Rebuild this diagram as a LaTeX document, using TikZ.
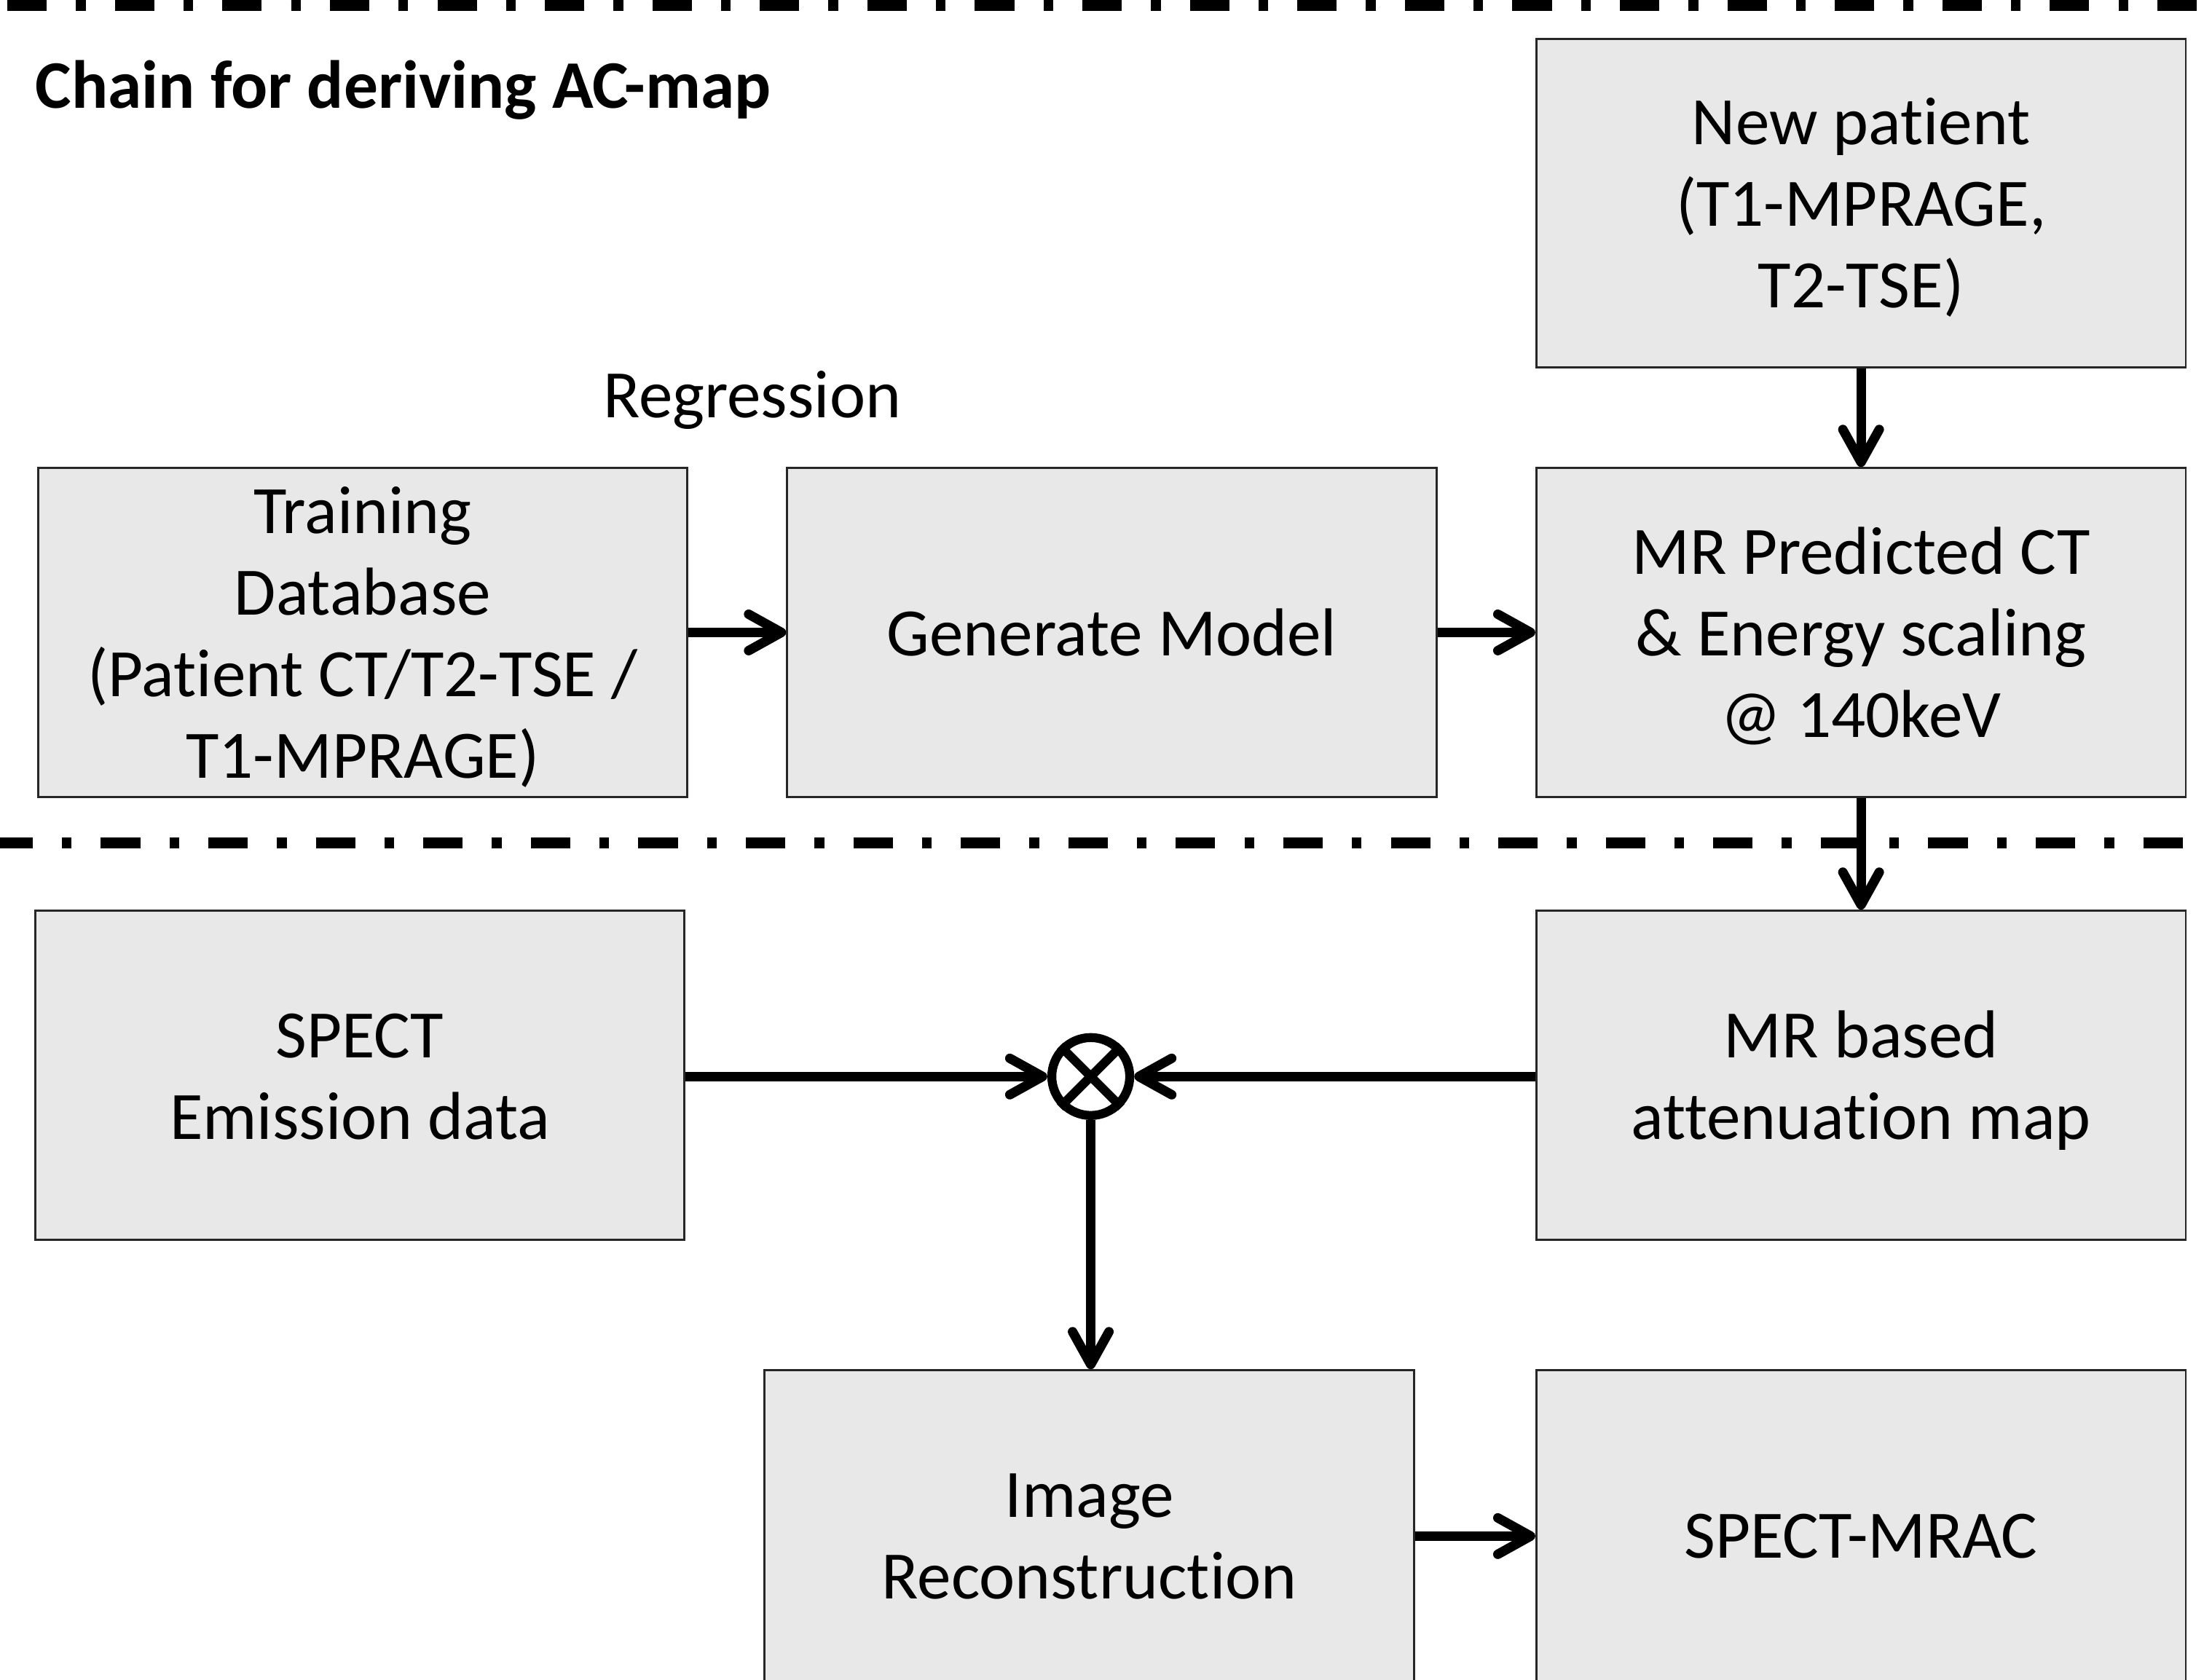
\documentclass[tikz,border=0pt]{standalone}
\usepackage{fontspec}
\setmainfont{Carlito}[Ligatures=NoCommon]
\usetikzlibrary{arrows.meta}
\definecolor{boxgray}{HTML}{E8E8E8}
\newcommand\fs{\rule[-6.88pt]{0pt}{31.86pt}}
\begin{document}
\begin{tikzpicture}[x=0.0193cm,y=-0.0193cm,
  box/.style={draw=black!85, line width=0.8pt, fill=boxgray, minimum width=8.917cm, minimum height=4.516cm, inner sep=0pt, align=center, font=\fontsize{26.5}{31.86}\selectfont},
  flow/.style={line width=3.7pt, -{Straight Barb[length=4.5mm,width=5mm,line cap=round,line join=round]}},
  divider/.style={line width=4.3pt, dash pattern=on 15.4pt off 11.4pt on 3.8pt off 11.4pt},
  lbl/.style={font=\fontsize{26.5}{31.86}\selectfont, inner sep=0pt}
]
\useasboundingbox (0,0) rectangle (1568,1195);
\clip (0,0) rectangle (1568,1195);

% dividers
\coordinate (t0) at (0,4);
\coordinate (t1) at (1568,4);
\coordinate (m0) at (0,600);
\coordinate (m1) at (1568,600);
\draw[divider, dash phase=39.1pt] (t0) -- (t1);
\draw[divider, dash phase=2.6pt] (m0) -- (m1);

% title and label
\node[lbl, font=\fontsize{26.6}{31.86}\selectfont\bfseries, anchor=base west] (title) at (25,77) {Chain for deriving AC-map};
\node[lbl, anchor=base] (reg) at (535,297) {Regression};

% boxes
\node[box] (np) at (1324,144.5) {\fs New patient\\(T1-MPRAGE,\\T2-TSE)\fs};
\node[box] (td) at (258,450) {\fs Training\\Database\\(Patient CT/T2-TSE /\\T1-MPRAGE)\fs};
\node[box] (gm) at (791,450) {\fs Generate Model\fs};
\node[box] (mrp) at (1324,450) {\fs MR Predicted CT\\\& Energy scaling\\@ 140keV\fs};
\node[box] (spect) at (256,765) {\fs SPECT\\Emission data\fs};
\node[box] (mra) at (1324,765) {\fs MR based\\attenuation map\fs};
\node[box] (ir) at (775,1092) {\fs Image\\Reconstruction\fs};
\node[box] (sm) at (1324,1092) {\fs SPECT-MRAC\fs};

% otimes
\node[circle, draw, line width=3.5pt, minimum size=1.07cm, inner sep=0pt] (ox) at (776,766) {};
\draw[line width=3.5pt] (ox.45) -- (ox.225) (ox.135) -- (ox.315);

% connectors
\draw[flow] (td) -- (gm);
\draw[flow] (gm) -- (mrp);
\draw[flow] (np) -- (mrp);
\draw[flow] (mrp) -- (mra);
\draw[flow] (spect.east |- ox) -- (ox);
\draw[flow] (mra.west |- ox) -- (ox);
\draw[flow] (ox) -- (ox |- ir.north);
\draw[flow] (ir.east |- 0,1093) -- (sm.west |- 0,1093);
\end{tikzpicture}
\end{document}
